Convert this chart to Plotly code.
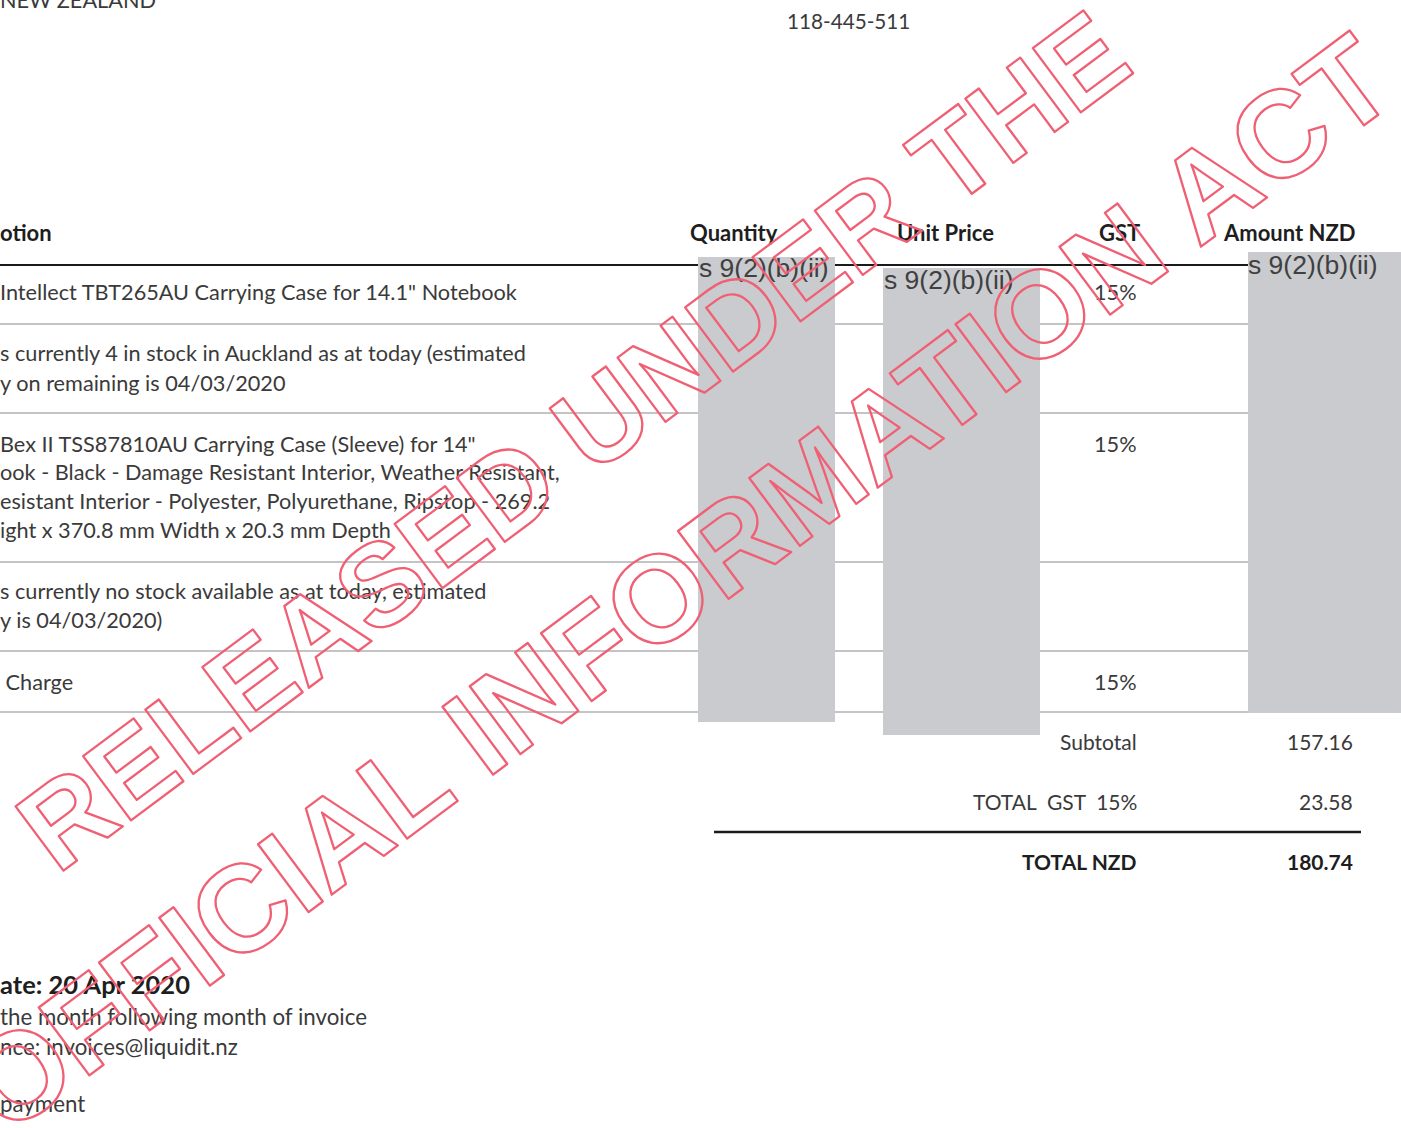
import plotly.graph_objects as go

# ---------------- data ----------------
address_line = "NEW ZEALAND"
phone_number = "118-445-511"
header_labels = ["otion", "Quantity", "Unit Price", "GST", "Amount NZD"]
description_lines = [
    "Intellect TBT265AU Carrying Case for 14.1\" Notebook",
    "s currently 4 in stock in Auckland as at today (estimated",
    "y on remaining is 04/03/2020",
    "Bex II TSS87810AU Carrying Case (Sleeve) for 14\"",
    "ook - Black - Damage Resistant Interior, Weather Resistant,",
    "esistant Interior - Polyester, Polyurethane, Ripstop - 269.2",
    "ight x 370.8 mm Width x 20.3 mm Depth",
    "s currently no stock available as at today, estimated",
    "y is 04/03/2020)",
    "\u00a0Charge",
]
gst_rates = ["15%", "15%", "15%"]
redaction_label = "s 9(2)(b)(ii)"
total_labels = ["Subtotal", "TOTAL\u00a0 GST\u00a0 15%", "TOTAL NZD"]
total_values = [157.16, 23.58, 180.74]
footer_lines = [
    "ate: 20 Apr 2020",
    "the month following month of invoice",
    "nce: invoices@liquidit.nz",
    "payment",
]
watermark_lines = ["RELEASED UNDER THE", "OFFICIAL INFORMATION ACT"]

# ---------------- layout helpers ----------------
W, H = 1401, 1128
BODY = "Lato"
TXT = "#3a3a3a"
HDR = "#1e1e1e"
fig = go.Figure()

annotations = []
shapes = []


def text(x, y, s, size=21.7, color=TXT, bold=False, anchor="left", family=BODY,
         yanchor="middle", xshift=0):
    annotations.append(dict(
        x=x, y=y, xref="x", yref="y", text=s, showarrow=False,
        xanchor=anchor, yanchor=yanchor, xshift=xshift,
        font=dict(family=family, size=size, color=color,
                  weight="bold" if bold else "normal"),
    ))


def hline(y, x0, x1, color, width):
    shapes.append(dict(type="line", xref="x", yref="y", x0=x0, x1=x1, y0=y, y1=y,
                       line=dict(color=color, width=width), layer="below"))


def box(x0, x1, y0, y1):
    shapes.append(dict(type="rect", xref="x", yref="y", x0=x0, x1=x1, y0=y0, y1=y1,
                       fillcolor="#c9cbce", line=dict(width=0), layer="above"))

# top text
text(0, 15, address_line, yanchor="bottom", xshift=-2)
text(848, 21, phone_number, size=20.7, anchor="center")

# header row
header_x = [0, 734, 945, 1119, 1289]
header_anchor = ["left", "center", "center", "center", "center"]
header_shift = [-2, 0, 0, 0, 0]
for hx, lab, an, sh in zip(header_x, header_labels, header_anchor, header_shift):
    text(hx, 232, lab, size=22, bold=True, color=HDR, anchor=an, xshift=sh)

# table rules
hline(265, 0, 1360, "#1a1a1a", 2.2)
for ry in [324, 413, 562, 651, 712]:
    hline(ry, 0, 1401, "#c4c4c4", 2)

# description lines
desc_y = [292, 353, 383, 444, 472, 501, 530, 591, 620, 682]
for dy, s in zip(desc_y, description_lines):
    text(0, dy, s, xshift=-2)

# GST column
for gy, g in zip([292, 444, 682], gst_rates):
    text(1139, gy, g, anchor="right")

# redaction boxes
box(698, 835, 257, 722)
box(883, 1040, 268, 735)
box(1248, 1401, 252, 713)
for bx, by in [(697, 268), (882, 280), (1246, 265)]:
    text(bx, by, redaction_label, size=26.5, color="#404040", family="Liberation Sans")

# totals
total_y = [741, 801, 861]
for i, (ty, lab, val) in enumerate(zip(total_y, total_labels, total_values)):
    b = i == 2
    text(1139, ty, lab, size=21, anchor="right", bold=b, color=HDR if b else TXT)
    text(1355, ty, f"{val:.2f}", size=21, anchor="right", bold=b, color=HDR if b else TXT)
hline(832, 714, 1361, "#1a1a1a", 2.6)

# footer
text(0, 984, footer_lines[0], size=25.5, bold=True, color=HDR, xshift=-2)
text(0, 1016, footer_lines[1], size=22.3, xshift=-2)
text(0, 1046, footer_lines[2], size=22.3, xshift=-2)
text(0, 1103, footer_lines[3], size=22.3, xshift=-2)

# watermark (outlined via post script)
wm_centers = [(573, 441), (678, 583)]
wm_sizes = [116.5, 123]
for (cx, cy), sz, s in zip(wm_centers, wm_sizes, watermark_lines):
    annotations.append(dict(
        x=cx, y=cy, xref="x", yref="y", text=s, showarrow=False,
        xanchor="center", yanchor="middle", textangle=-36.7,
        font=dict(family="Liberation Sans", size=sz, color="rgba(240,96,116,0.9)",
                  weight="bold"),
    ))

fig.update_layout(
    width=W, height=H,
    margin=dict(l=0, r=0, t=0, b=0),
    paper_bgcolor="white", plot_bgcolor="white",
    xaxis=dict(range=[0, W], visible=False, fixedrange=True),
    yaxis=dict(range=[H, 0], visible=False, fixedrange=True),
    annotations=annotations, shapes=shapes, showlegend=False,
)

post = """
document.body.style.margin = '0';
document.body.style.overflow = 'hidden';
var gd = document.getElementById('{plot_id}');
function outlineWatermark(){
  gd.querySelectorAll('text.annotation-text').forEach(function(t){
    var c = t.textContent;
    if (c.indexOf('RELEASED') >= 0 || c.indexOf('OFFICIAL') >= 0) {
      t.style.fill = 'none';
      t.style.stroke = 'rgb(240,96,116)';
      t.style.strokeWidth = '2.3px';
      t.style.strokeLinejoin = 'round';
    }
  });
}
outlineWatermark();
gd.on('plotly_afterplot', outlineWatermark);
"""

fig.write_html("out.html", post_script=post, config={"displayModeBar": False})
